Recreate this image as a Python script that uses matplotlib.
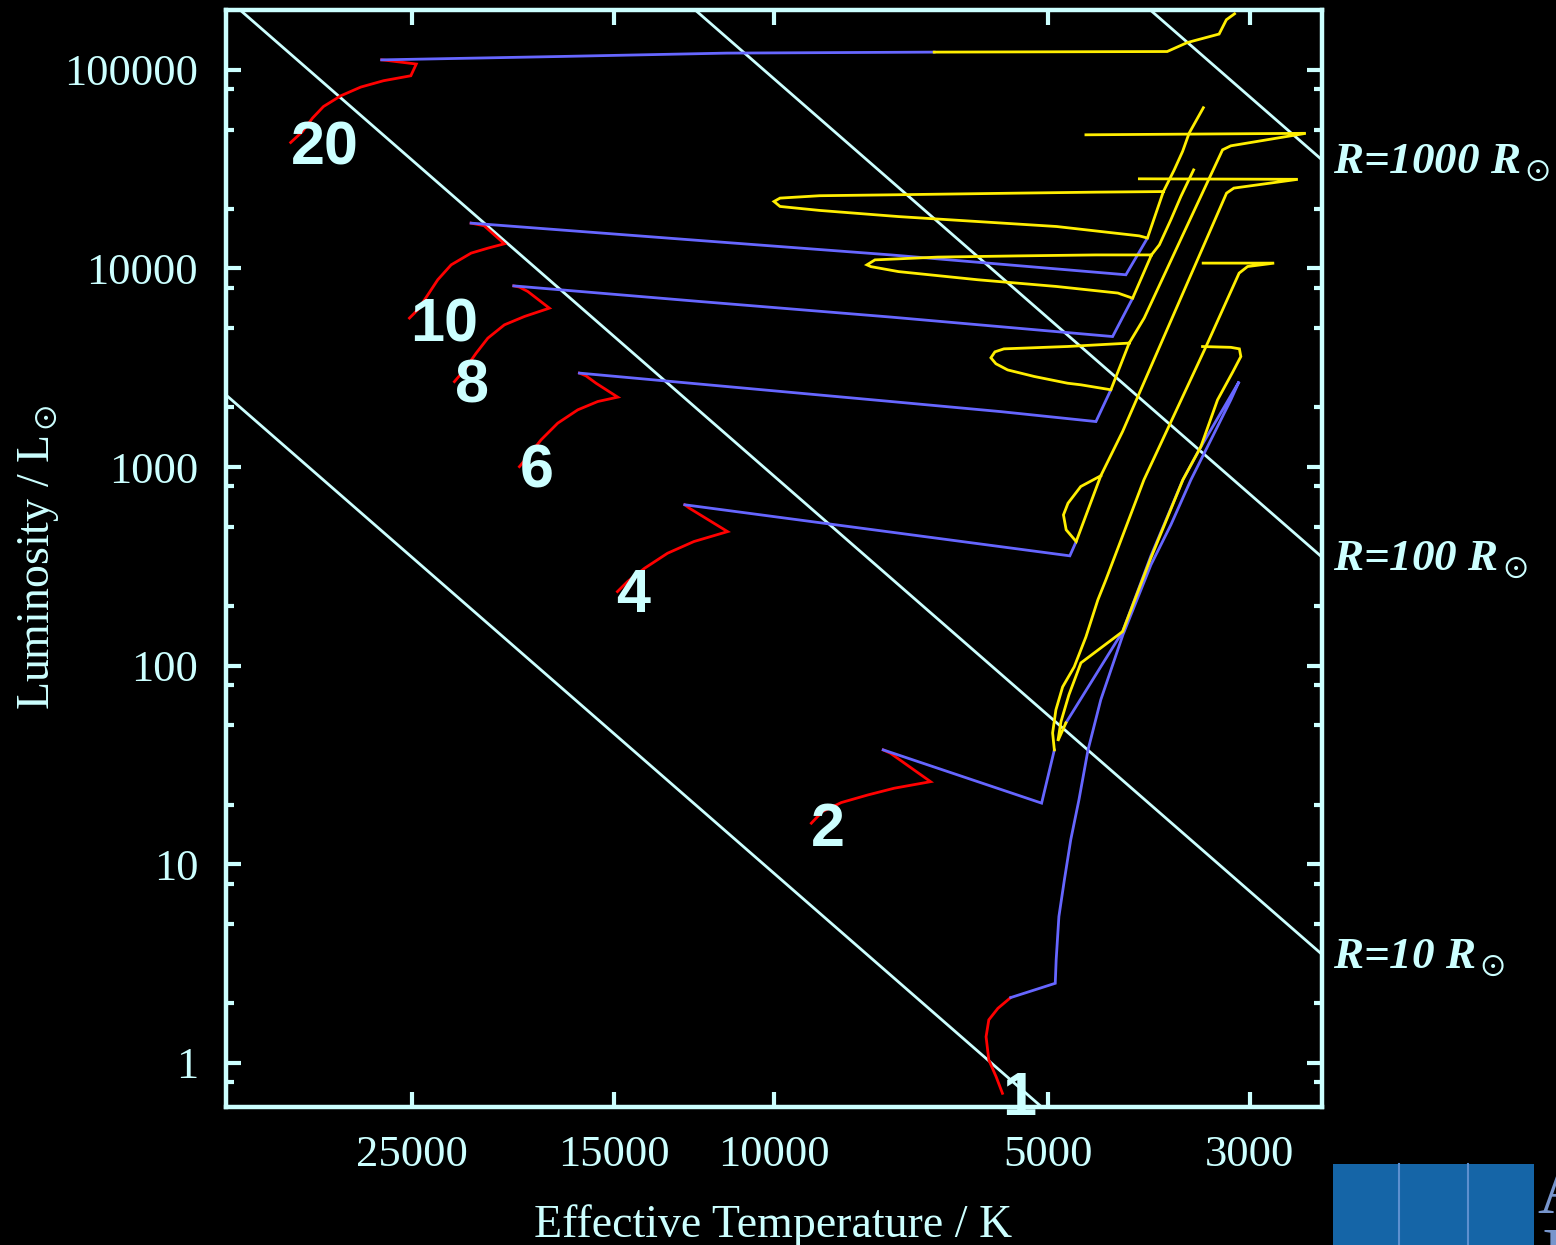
#!/usr/bin/env python3
"""HR diagram with evolutionary tracks (1-20 Msun) and lines of constant radius."""

import matplotlib
matplotlib.use('Agg')
import matplotlib.pyplot as plt
from matplotlib.ticker import FixedLocator, NullLocator, NullFormatter
from matplotlib.patches import Rectangle
import numpy as np

plt.rcParams.update({
    'font.family': 'Liberation Serif',
    'mathtext.fontset': 'stix',
})

FG = '#ccffff'
RED, BLUE, YELLOW = '#ff0000', '#6666ff', '#ffee00'
LW_TRACK = 2.0

# ---- tracks: (log Teff, log L/Lsun) per phase -----------------------------
M20_MS = [(4.531, 4.634), (4.518, 4.689), (4.507, 4.757), (4.495, 4.815), (4.476, 4.869),
          (4.454, 4.913), (4.429, 4.945), (4.399, 4.970), (4.393, 5.029), (4.425, 5.047),
          (4.431, 5.050)]
M20_HG = [(4.431, 5.050), (4.235, 5.067), (4.052, 5.084), (3.824, 5.089)]
M20_HE = [(3.824, 5.089), (3.568, 5.092), (3.546, 5.137), (3.511, 5.180), (3.503, 5.252),
          (3.494, 5.282)]

M10_MS = [(4.4005, 3.750), (4.3913, 3.792), (4.3803, 3.867), (4.3694, 3.943), (4.3547, 4.018),
          (4.3328, 4.077), (4.3144, 4.102), (4.2962, 4.124), (4.3185, 4.215), (4.3328, 4.228)]
M10_HG = [(4.3328, 4.228), (4.0802, 4.140), (3.8715, 4.068), (3.6134, 3.968), (3.5897, 4.153)]
M10_HE = [(3.5283, 4.809), (3.5439, 4.681), (3.5511, 4.589), (3.5603, 4.496), (3.5722, 4.387),
          (3.5897, 4.153), (3.5988, 4.164), (3.6895, 4.211), (3.7763, 4.236), (3.8632, 4.261),
          (3.9499, 4.292), (3.9934, 4.312), (4.0000, 4.337), (3.9934, 4.354), (3.9499, 4.366),
          (3.8632, 4.371), (3.7331, 4.379), (3.6463, 4.384), (3.5722, 4.387)]

M8_MS = [(4.3511, 3.430), (4.3401, 3.489), (4.3273, 3.573), (4.3144, 3.649), (4.2962, 3.716),
         (4.2742, 3.758), (4.2468, 3.800), (4.2705, 3.884), (4.2797, 3.906), (4.2859, 3.912)]
M8_HG = [(4.2859, 3.912), (4.0802, 3.833), (3.8715, 3.755), (3.6280, 3.657), (3.6060, 3.850)]
M8_HE = [(3.5390, 4.496), (3.5530, 4.362), (3.5640, 4.245), (3.5766, 4.119), (3.5853, 4.068),
         (3.6060, 3.850), (3.6222, 3.876), (3.6895, 3.909), (3.7763, 3.943), (3.8632, 3.984),
         (3.8935, 4.009), (3.8979, 4.018), (3.8891, 4.043), (3.8199, 4.057), (3.7331, 4.063),
         (3.6463, 4.068), (3.5853, 4.068)]

M6_MS = [(4.2797, 3.002), (4.2705, 3.053), (4.2559, 3.137), (4.2376, 3.221), (4.2156, 3.288),
         (4.1936, 3.330), (4.1717, 3.352), (4.1955, 3.422), (4.2065, 3.459), (4.2138, 3.473)]
M6_HG = [(4.2138, 3.473), (3.8715, 3.330), (3.7507, 3.279), (3.6463, 3.229), (3.6299, 3.389)]
M6_HE = [(3.6573, 4.6727), (3.4157, 4.6802), (3.4981, 4.6173), (3.5072, 4.5971),
         (3.5508, 4.1691), (3.5933, 3.750), (3.6098, 3.624), (3.6299, 3.389), (3.6628, 3.414),
         (3.6774, 3.422), (3.7141, 3.456), (3.7433, 3.489), (3.7562, 3.520), (3.7617, 3.550),
         (3.7573, 3.580), (3.7474, 3.595), (3.6774, 3.607), (3.6098, 3.624)]

M4_MS = [(4.172, 2.373), (4.161, 2.423), (4.142, 2.491), (4.117, 2.566), (4.088, 2.625),
         (4.051, 2.675), (4.093, 2.793), (4.098, 2.810)]
M4_HG = [(4.098, 2.810), (3.675, 2.553), (3.668, 2.625)]
M4_HE = [(3.5986, 4.4511), (3.4245, 4.4486), (3.4948, 4.4043), (3.5028, 4.3791),
         (3.617, 3.179), (3.641, 2.956), (3.668, 2.625), (3.679, 2.684), (3.682, 2.759),
         (3.677, 2.818), (3.663, 2.902), (3.641, 2.956)]

M2_MS = [(3.959, 1.207), (3.947, 1.265), (3.926, 1.311), (3.897, 1.349), (3.868, 1.383),
         (3.828, 1.416), (3.872, 1.559), (3.880, 1.576)]
M2_HG = [(3.880, 1.576), (3.706, 1.308), (3.692, 1.576)]
M2_HE = [(3.692, 1.576), (3.6939, 1.6616), (3.6903, 1.7774), (3.6829, 1.8932),
         (3.6702, 1.9939), (3.6573, 2.1450), (3.6442, 2.3313), (3.6354, 2.4320),
         (3.5936, 2.9355), (3.5255, 3.6052), (3.4890, 3.9763), (3.4797, 4.0095),
         (3.4505, 4.0267), (3.5285, 4.0267)]

M1_MS = [(3.749, -0.153), (3.756, -0.069), (3.764, 0.015), (3.767, 0.132), (3.764, 0.217),
         (3.754, 0.275), (3.740, 0.329)]
M1_RGB = [(3.740, 0.329), (3.691, 0.401), (3.690, 0.519), (3.687, 0.737), (3.681, 0.921),
          (3.674, 1.123), (3.665, 1.324), (3.655, 1.576), (3.641, 1.828), (3.6167, 2.1551),
          (3.5859, 2.5075), (3.5640, 2.7089), (3.5420, 2.9355), (3.5200, 3.1369),
          (3.4981, 3.3383), (3.4890, 3.4305), (3.5310, 3.1017), (3.5508, 2.9355),
          (3.5859, 2.5528), (3.6170, 2.1717), (3.6793, 1.7120)]
M1_HE = [(3.6793, 1.7120), (3.6881, 1.6213), (3.6848, 1.7170), (3.6760, 1.8530),
         (3.6628, 2.0141), (3.6170, 2.1717), (3.5859, 2.5428), (3.5508, 2.9355),
         (3.5310, 3.1032), (3.5127, 3.3383), (3.4959, 3.4793), (3.4871, 3.5564),
         (3.4887, 3.5951), (3.4981, 3.6027), (3.5292, 3.6067)]

TRACKS = [
    (M20_MS, RED), (M20_HG, BLUE), (M20_HE, YELLOW),
    (M10_MS, RED), (M10_HG, BLUE), (M10_HE, YELLOW),
    (M8_MS, RED), (M8_HG, BLUE), (M8_HE, YELLOW),
    (M6_MS, RED), (M6_HG, BLUE), (M6_HE, YELLOW),
    (M4_MS, RED), (M4_HG, BLUE), (M4_HE, YELLOW),
    (M2_MS, RED), (M2_HG, BLUE), (M2_HE, YELLOW),
    (M1_MS, RED), (M1_RGB, BLUE), (M1_HE, YELLOW),
]

# mass labels (Msun) at their log Teff / log L positions
MASS_LABELS = ['20', '10', '8', '6', '4', '2', '1']
LABEL_LOGT = [4.494, 4.362, 4.332, 4.261, 4.155, 3.941, 3.731]
LABEL_LOGL = [4.632, 3.741, 3.434, 3.006, 2.382, 1.203, -0.151]

# lines of constant radius
RADII = [1, 10, 100, 1000]
RADIUS_LABELS = [None, r'R=10 R$_\odot$', r'R=100 R$_\odot$', r'R=1000 R$_\odot$']
T_SUN = 5772.0

# axes
T_MIN, T_MAX = 2500, 40000
L_MIN, L_MAX = 0.6, 2e5
XTICKS = [25000, 15000, 10000, 5000, 3000]
YTICKS = [1, 10, 100, 1000, 10000, 100000]
YMINOR = [0.8, 2, 5, 8, 20, 50, 80, 200, 500, 800, 2000, 5000, 8000,
          20000, 50000, 80000]

W, H = 1556, 1245
fig = plt.figure(figsize=(W / 100, H / 100), dpi=100, facecolor='black')
ax = fig.add_axes([226 / W, 1 - 1107 / H, 1096 / W, 1097 / H])
ax.set_facecolor('black')
ax.set_xscale('log')
ax.set_yscale('log')
ax.set_xlim(T_MAX, T_MIN)
ax.set_ylim(L_MIN, L_MAX)

# constant radius lines: L = R^2 (T/Tsun)^4
t_ends = np.array([T_MAX, T_MIN], dtype=float)
for R, lab in zip(RADII, RADIUS_LABELS):
    l_ends = R ** 2 * (t_ends / T_SUN) ** 4
    ax.plot(t_ends, l_ends, color=FG, lw=2.0, zorder=2)
    if lab:
        ax.annotate(lab, xy=(T_MIN, l_ends[1]), xytext=(8, -9.5), textcoords='offset points',
                    ha='left', va='baseline', color=FG, fontsize=32.5, fontstyle='italic',
                    fontweight='bold', annotation_clip=False)

for pts, col in TRACKS:
    lt, ll = np.array(pts).T
    ax.plot(10 ** lt, 10 ** ll, color=col, lw=LW_TRACK, solid_joinstyle='miter', zorder=3)

for lab, lt, ll in zip(MASS_LABELS, LABEL_LOGT, LABEL_LOGL):
    ax.text(10 ** lt, 10 ** ll, lab, ha='center', va='center_baseline', color=FG,
            fontsize=44, fontweight='bold', family='Liberation Sans', clip_on=False, zorder=4)

ax.set_xticks(XTICKS)
ax.set_xticklabels([str(t) for t in XTICKS])
ax.xaxis.set_minor_locator(NullLocator())
ax.set_yticks(YTICKS)
ax.set_yticklabels([str(v) for v in YTICKS])
ax.yaxis.set_minor_locator(FixedLocator(YMINOR))
ax.yaxis.set_minor_formatter(NullFormatter())
ax.tick_params(which='both', direction='in', top=True, right=True, color=FG,
               width=3, labelcolor=FG)
ax.tick_params(which='major', length=11, labelsize=32, pad=20)
ax.tick_params(which='minor', length=5.5)
for sp in ax.spines.values():
    sp.set_color(FG)
    sp.set_linewidth(3.2)

fig.text(773.5 / W, 1 - 1237 / H, 'Effective Temperature / K', ha='center', va='baseline',
         color=FG, fontsize=33)
fig.text(49 / W, 1 - 557 / H, r'Luminosity / L$_\odot$', ha='center', va='baseline',
         rotation=90, rotation_mode='anchor', color=FG, fontsize=33)

# corner logo (cut by the picture edge, as in the original slide)
fig.patches.append(Rectangle((1333 / W, 0), 201 / W, 81 / H, transform=fig.transFigure,
                             facecolor='#1565a7', edgecolor='none'))
for xl in (1399, 1468):
    fig.lines.append(plt.Line2D([xl / W, xl / W], [0, 81 / H], transform=fig.transFigure,
                                color='#5d90cf', lw=1.5))
fig.text(1537 / W, 1 - 1213 / H, 'A', ha='left', va='baseline', color='#7795cc', fontsize=50)
fig.text(1541 / W, 1 - 1228 / H, 'I', ha='left', va='top', color='#7795cc', fontsize=50)

fig.savefig('out.png', dpi=100, facecolor='black')
